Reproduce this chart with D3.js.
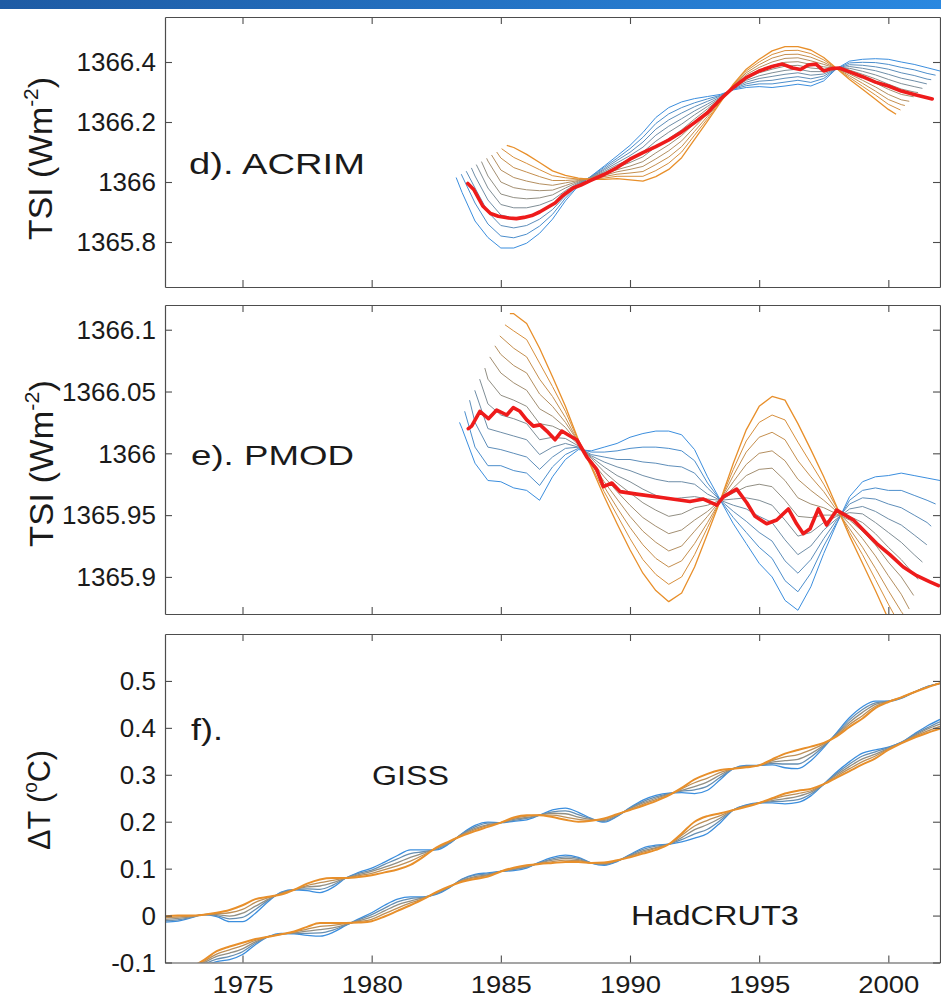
<!DOCTYPE html>
<html>
<head>
<meta charset="utf-8">
<title>TSI reconstructions and temperature</title>
<script src="https://cdn.jsdelivr.net/npm/d3@7"></script>
<style>
  html, body { margin: 0; padding: 0; background: #fff; }
  svg { display: block; }
  text { font-family: "Liberation Sans", Arial, Helvetica, sans-serif; fill: #1a1a1a; }
</style>
</head>
<body>
<svg id="chart" width="941" height="1003"></svg>
<script>
// ---------------- data ----------------
const yearTicks = [1975, 1980, 1985, 1990, 1995, 2000];
const yearTickLabels = ["1975", "1980", "1985", "1990", "1995", "2000"];

const acrimTicks = [1365.8, 1366, 1366.2, 1366.4];
const acrimTickLabels = ["1365.8", "1366", "1366.2", "1366.4"];
const pmodTicks = [1365.9, 1365.95, 1366, 1366.05, 1366.1];
const pmodTickLabels = ["1365.9", "1365.95", "1366", "1366.05", "1366.1"];
const tempTicks = [-0.1, 0, 0.1, 0.2, 0.3, 0.4, 0.5];
const tempTickLabels = ["-0.1", "0", "0.1", "0.2", "0.3", "0.4", "0.5"];

// common half-year grid of the TSI curves (W m-2)
const tsiYears = [1983.5,1984,1984.5,1985,1985.5,1986,1986.5,1987,1987.5,1988,1988.5,1989,1989.5,1990,1990.5,1991,1991.5,1992,1992.5,1993,1993.5,1994,1994.5,1995,1995.5,1996,1996.5,1997,1997.5,1998,1998.5,1999,1999.5,2000,2000.5,2001,2001.5,2002];

// ACRIM family, row 0 = blue ... row 10 = orange
const acrimFan = [
  [1365.965,1365.870,1365.815,1365.780,1365.780,1365.796,1365.829,1365.876,1365.937,1365.987,1366.020,1366.053,1366.087,1366.122,1366.165,1366.215,1366.248,1366.267,1366.278,1366.285,1366.292,1366.307,1366.315,1366.318,1366.315,1366.320,1366.326,1366.320,1366.337,1366.378,1366.403,1366.409,1366.411,1366.409,1366.400,1366.392,1366.381,null],
  [1366.020,1365.930,1365.860,1365.820,1365.814,1365.826,1365.853,1365.892,1365.946,1365.990,1366.019,1366.049,1366.079,1366.111,1366.149,1366.195,1366.227,1366.248,1366.264,1366.277,1366.289,1366.309,1366.321,1366.327,1366.327,1366.333,1366.339,1366.332,1366.345,1366.378,1366.397,1366.399,1366.398,1366.392,1366.382,1366.374,1366.362,null],
  [null,1365.980,1365.900,1365.855,1365.847,1365.855,1365.876,1365.908,1365.954,1365.992,1366.018,1366.044,1366.072,1366.099,1366.133,1366.176,1366.207,1366.230,1366.251,1366.269,1366.287,1366.311,1366.327,1366.336,1366.339,1366.346,1366.351,1366.344,1366.353,1366.378,1366.391,1366.389,1366.384,1366.376,1366.364,1366.355,1366.343,null],
  [null,1366.020,1365.940,1365.890,1365.880,1365.885,1365.900,1365.924,1365.963,1365.995,1366.017,1366.040,1366.064,1366.088,1366.116,1366.156,1366.186,1366.211,1366.237,1366.260,1366.284,1366.313,1366.333,1366.345,1366.352,1366.359,1366.364,1366.356,1366.360,1366.378,1366.385,1366.379,1366.371,1366.359,1366.346,1366.337,null,null],
  [null,null,1365.980,1365.925,1365.914,1365.914,1365.923,1365.940,1365.971,1365.997,1366.016,1366.035,1366.057,1366.076,1366.100,1366.136,1366.166,1366.193,1366.224,1366.252,1366.281,1366.315,1366.339,1366.354,1366.364,1366.372,1366.376,1366.368,1366.368,1366.378,1366.379,1366.369,1366.357,1366.342,1366.328,1366.318,null,null],
  [null,null,1366.020,1365.960,1365.948,1365.944,1365.947,1365.957,1365.980,1366.000,1366.015,1366.031,1366.049,1366.065,1366.084,1366.117,1366.145,1366.174,1366.210,1366.244,1366.279,1366.317,1366.346,1366.364,1366.376,1366.386,1366.389,1366.380,1366.376,1366.378,1366.373,1366.359,1366.344,1366.326,1366.310,1366.300,null,null],
  [null,null,1366.070,1366.000,1365.981,1365.974,1365.971,1365.973,1365.988,1366.003,1366.013,1366.027,1366.041,1366.053,1366.068,1366.097,1366.124,1366.155,1366.196,1366.236,1366.276,1366.318,1366.352,1366.373,1366.388,1366.399,1366.401,1366.392,1366.384,1366.378,1366.366,1366.349,1366.330,1366.309,1366.292,null,null,null],
  [null,null,null,1366.040,1366.015,1366.003,1365.994,1365.989,1365.997,1366.005,1366.012,1366.022,1366.034,1366.042,1366.052,1366.077,1366.104,1366.137,1366.183,1366.228,1366.273,1366.320,1366.358,1366.382,1366.400,1366.412,1366.414,1366.404,1366.392,1366.378,1366.360,1366.339,1366.317,1366.292,1366.274,null,null,null],
  [null,null,null,1366.080,1366.048,1366.033,1366.018,1366.005,1366.005,1366.008,1366.011,1366.018,1366.026,1366.030,1366.035,1366.058,1366.083,1366.118,1366.169,1366.219,1366.270,1366.322,1366.364,1366.391,1366.413,1366.425,1366.426,1366.416,1366.399,1366.378,1366.354,1366.329,1366.303,1366.275,1366.258,null,null,null],
  [null,null,null,null,1366.082,1366.062,1366.041,1366.021,1366.014,1366.010,1366.010,1366.013,1366.019,1366.019,1366.019,1366.038,1366.063,1366.100,1366.156,1366.211,1366.268,1366.324,1366.370,1366.400,1366.425,1366.438,1366.439,1366.428,1366.407,1366.378,1366.348,1366.319,1366.290,1366.259,null,null,null,null],
  [null,null,null,null,1366.115,1366.092,1366.065,1366.037,1366.022,1366.013,1366.009,1366.009,1366.011,1366.007,1366.003,1366.018,1366.042,1366.081,1366.142,1366.203,1366.265,1366.326,1366.376,1366.409,1366.437,1366.451,1366.451,1366.440,1366.415,1366.378,1366.342,1366.309,1366.276,1366.242,null,null,null,null]
];
const acrimStartYear  = [1983.27,1983.47,1983.66,1983.86,1984.05,1984.25,1984.45,1984.64,1984.84,1985.03,1985.23];
const acrimStartValue = [1366.015,1366.026,1366.036,1366.047,1366.058,1366.068,1366.079,1366.090,1366.100,1366.111,1366.122];
const acrimEndYear    = [2002.0,2001.83,2001.66,2001.49,2001.32,2001.15,2000.98,2000.81,2000.64,2000.47,2000.30];
const acrimEndValue   = [1366.370,1366.356,1366.341,1366.327,1366.312,1366.298,1366.284,1366.269,1366.255,1366.240,1366.226];

const acrimRedYears  = [1983.72,1983.95,1984.3,1984.6,1984.9,1985.3,1985.6,1985.9,1986.2,1986.5,1986.8,1987.1,1987.4,1987.8,1988.1,1988.5,1989.0,1989.5,1990.0,1990.5,1991.0,1991.5,1992.0,1992.5,1993.0,1993.5,1994.0,1994.5,1995.0,1995.5,1995.9,1996.3,1996.6,1996.9,1997.2,1997.5,1997.8,1998.1,1998.5,1999.0,1999.5,2000.0,2000.5,2001.0,2001.7];
const acrimRedValues = [1365.995,1365.975,1365.920,1365.895,1365.886,1365.880,1365.878,1365.882,1365.888,1365.900,1365.915,1365.930,1365.955,1365.980,1365.990,1366.006,1366.025,1366.048,1366.076,1366.098,1366.118,1366.140,1366.167,1366.198,1366.231,1366.276,1366.315,1366.348,1366.370,1366.385,1366.393,1366.380,1366.375,1366.390,1366.393,1366.370,1366.378,1366.380,1366.367,1366.351,1366.333,1366.320,1366.303,1366.292,1366.277];

// PMOD family, row 0 = blue ... row 10 = orange
const pmodFan = [
  [1366.020,1365.992,1365.978,1365.977,1365.972,1365.970,1365.962,1365.981,1365.995,1366.003,1366.002,1366.005,1366.008,1366.013,1366.016,1366.018,1366.018,1366.015,1366.003,1365.981,1365.962,1365.943,1365.927,1365.911,1365.900,1365.881,1365.873,1365.892,1365.919,1365.943,1365.965,1365.977,1365.981,1365.982,1365.984,1365.982,1365.980,null],
  [null,1366.005,1365.990,1365.990,1365.986,1365.984,1365.974,1365.989,1365.999,1366.004,1366.001,1366.001,1366.002,1366.004,1366.005,1366.005,1366.004,1366.002,1365.994,1365.976,1365.962,1365.948,1365.936,1365.924,1365.915,1365.897,1365.888,1365.903,1365.925,1365.944,1365.962,1365.970,1365.972,1365.970,1365.970,1365.966,1365.962,null],
  [null,1366.025,1366.005,1366.003,1366.000,1365.997,1365.987,1365.997,1366.004,1366.005,1365.999,1365.997,1365.995,1365.995,1365.993,1365.992,1365.990,1365.989,1365.984,1365.972,1365.962,1365.953,1365.945,1365.936,1365.929,1365.913,1365.903,1365.914,1365.931,1365.946,1365.959,1365.964,1365.963,1365.959,1365.956,1365.950,1365.944,null],
  [null,null,1366.020,1366.017,1366.014,1366.011,1365.999,1366.005,1366.008,1366.005,1365.998,1365.993,1365.989,1365.986,1365.982,1365.979,1365.977,1365.977,1365.975,1365.967,1365.962,1365.958,1365.955,1365.949,1365.944,1365.930,1365.918,1365.925,1365.938,1365.947,1365.955,1365.957,1365.953,1365.947,1365.942,1365.934,null,null],
  [null,null,1366.040,1366.031,1366.028,1366.024,1366.011,1366.013,1366.012,1366.006,1365.997,1365.989,1365.982,1365.977,1365.971,1365.966,1365.963,1365.964,1365.965,1365.963,1365.962,1365.963,1365.964,1365.962,1365.958,1365.946,1365.933,1365.936,1365.944,1365.949,1365.952,1365.951,1365.944,1365.936,1365.928,1365.918,null,null],
  [null,null,1366.060,1366.047,1366.043,1366.038,1366.024,1366.022,1366.017,1366.007,1365.996,1365.985,1365.976,1365.968,1365.960,1365.954,1365.949,1365.951,1365.956,1365.958,1365.962,1365.968,1365.973,1365.975,1365.973,1365.962,1365.949,1365.948,1365.950,1365.950,1365.949,1365.944,1365.935,1365.924,1365.914,1365.902,null,null],
  [null,null,null,1366.065,1366.057,1366.051,1366.036,1366.030,1366.021,1366.008,1365.994,1365.981,1365.969,1365.958,1365.948,1365.941,1365.935,1365.938,1365.946,1365.953,1365.962,1365.972,1365.982,1365.987,1365.988,1365.978,1365.964,1365.959,1365.956,1365.951,1365.946,1365.937,1365.926,1365.912,1365.900,null,null,null],
  [null,null,null,1366.080,1366.071,1366.065,1366.048,1366.038,1366.025,1366.009,1365.993,1365.977,1365.963,1365.949,1365.937,1365.928,1365.921,1365.925,1365.937,1365.949,1365.962,1365.977,1365.991,1366.000,1366.002,1365.994,1365.979,1365.970,1365.962,1365.953,1365.943,1365.931,1365.917,1365.901,1365.886,null,null,null],
  [null,null,null,null,1366.085,1366.078,1366.060,1366.046,1366.029,1366.009,1365.992,1365.973,1365.956,1365.940,1365.926,1365.915,1365.908,1365.913,1365.927,1365.944,1365.962,1365.982,1366.001,1366.013,1366.017,1366.011,1365.994,1365.981,1365.969,1365.954,1365.939,1365.924,1365.907,1365.889,1365.872,null,null,null],
  [null,null,null,null,1366.099,1366.092,1366.073,1366.054,1366.034,1366.010,1365.990,1365.969,1365.950,1365.931,1365.914,1365.902,1365.894,1365.900,1365.918,1365.940,1365.962,1365.987,1366.010,1366.025,1366.031,1366.027,1366.009,1365.992,1365.975,1365.956,1365.936,1365.918,1365.898,1365.878,null,null,null,null],
  [null,null,null,null,1366.113,1366.105,1366.085,1366.062,1366.038,1366.011,1365.989,1365.965,1365.943,1365.922,1365.903,1365.889,1365.880,1365.887,1365.908,1365.935,1365.962,1365.992,1366.019,1366.038,1366.046,1366.043,1366.024,1366.003,1365.981,1365.957,1365.933,1365.911,1365.889,1365.866,null,null,null,null]
];
const pmodStartYear  = [1983.40,1983.60,1983.79,1983.99,1984.18,1984.38,1984.57,1984.77,1984.96,1985.16,1985.35];
const pmodStartValue = [1366.025,1366.034,1366.043,1366.051,1366.060,1366.069,1366.078,1366.087,1366.095,1366.104,1366.113];
const pmodEndYear    = [2002.0,2001.83,2001.66,2001.49,2001.32,2001.15,2000.98,2000.81,2000.64,2000.47,2000.30];
const pmodEndValue   = [1365.978,1365.959,1365.941,1365.926,1365.912,1365.898,1365.885,1365.874,1365.868,1365.860,1365.852];

const pmodRedYears  = [1983.74,1983.87,1984.19,1984.52,1984.84,1985.23,1985.48,1985.74,1986.0,1986.26,1986.52,1986.78,1987.10,1987.36,1987.68,1987.94,1988.33,1988.71,1988.97,1989.30,1989.62,1990.26,1991.29,1992.32,1992.84,1993.36,1993.62,1994.13,1994.52,1994.84,1995.29,1995.68,1996.13,1996.45,1996.71,1996.97,1997.29,1997.61,1998.0,1998.33,1998.65,1999.03,1999.55,2000.06,2000.58,2001.1,2001.61,2001.94];
const pmodRedValues = [1366.020,1366.022,1366.034,1366.028,1366.035,1366.031,1366.037,1366.034,1366.027,1366.022,1366.023,1366.018,1366.011,1366.018,1366.014,1366.011,1365.997,1365.987,1365.973,1365.976,1365.969,1365.967,1365.964,1365.961,1365.963,1365.958,1365.965,1365.971,1365.960,1365.949,1365.943,1365.946,1365.955,1365.943,1365.935,1365.939,1365.955,1365.942,1365.954,1365.950,1365.946,1365.938,1365.927,1365.918,1365.908,1365.901,1365.896,1365.893];

// temperature anomalies (deg C) on a half-year grid
const tempYears = [1972,1972.5,1973,1973.5,1974,1974.5,1975,1975.5,1976,1976.5,1977,1977.5,1978,1978.5,1979,1979.5,1980,1980.5,1981,1981.5,1982,1982.5,1983,1983.5,1984,1984.5,1985,1985.5,1986,1986.5,1987,1987.5,1988,1988.5,1989,1989.5,1990,1990.5,1991,1991.5,1992,1992.5,1993,1993.5,1994,1994.5,1995,1995.5,1996,1996.5,1997,1997.5,1998,1998.5,1999,1999.5,2000,2000.5,2001,2001.5,2002];

// GISS family, row 0 = blue ... row 4 = orange
const gissFan = [
  [-0.014,-0.012,-0.005,0.002,-0.002,-0.013,-0.013,0.005,0.030,0.050,0.055,0.053,0.049,0.060,0.080,0.092,0.101,0.114,0.128,0.140,0.140,0.140,0.153,0.175,0.192,0.199,0.198,0.201,0.204,0.214,0.225,0.229,0.220,0.207,0.199,0.211,0.230,0.246,0.256,0.261,0.262,0.260,0.267,0.290,0.313,0.320,0.320,0.321,0.315,0.313,0.330,0.358,0.390,0.422,0.445,0.457,0.457,0.463,0.476,0.488,0.495],
  [-0.011,-0.009,-0.004,0.002,0.000,-0.007,-0.004,0.013,0.033,0.049,0.055,0.057,0.056,0.065,0.080,0.090,0.097,0.109,0.121,0.132,0.136,0.141,0.154,0.174,0.189,0.197,0.198,0.203,0.207,0.214,0.221,0.223,0.215,0.206,0.201,0.212,0.229,0.243,0.253,0.260,0.265,0.268,0.276,0.295,0.313,0.319,0.320,0.324,0.323,0.323,0.338,0.361,0.388,0.417,0.439,0.453,0.457,0.464,0.476,0.488,0.495],
  [-0.008,-0.006,-0.003,0.002,0.002,-0.001,0.005,0.020,0.035,0.048,0.055,0.061,0.063,0.070,0.080,0.087,0.094,0.103,0.113,0.124,0.133,0.143,0.156,0.173,0.186,0.194,0.198,0.205,0.209,0.214,0.218,0.217,0.210,0.205,0.203,0.214,0.228,0.240,0.250,0.259,0.267,0.275,0.285,0.300,0.313,0.318,0.320,0.327,0.330,0.333,0.345,0.363,0.386,0.412,0.433,0.450,0.456,0.464,0.476,0.487,0.495],
  [-0.005,-0.003,-0.001,0.002,0.004,0.006,0.013,0.028,0.038,0.046,0.055,0.064,0.070,0.075,0.080,0.085,0.090,0.098,0.106,0.116,0.129,0.144,0.157,0.171,0.183,0.192,0.198,0.207,0.212,0.214,0.214,0.210,0.205,0.203,0.205,0.215,0.226,0.237,0.247,0.257,0.270,0.283,0.293,0.305,0.313,0.317,0.320,0.330,0.338,0.343,0.353,0.366,0.384,0.407,0.426,0.446,0.456,0.465,0.476,0.487,0.495],
  [-0.002,0.000,0.000,0.002,0.006,0.012,0.022,0.035,0.040,0.045,0.055,0.068,0.077,0.080,0.080,0.082,0.086,0.092,0.098,0.108,0.125,0.145,0.158,0.170,0.180,0.189,0.198,0.209,0.214,0.214,0.210,0.204,0.200,0.202,0.207,0.216,0.225,0.234,0.244,0.256,0.272,0.290,0.302,0.310,0.313,0.316,0.320,0.333,0.345,0.353,0.360,0.368,0.382,0.402,0.420,0.442,0.455,0.465,0.476,0.486,0.495]
];

// HadCRUT3 family, row 0 = blue ... row 4 = orange
const hadcrutFan = [
  [-0.140,-0.128,-0.120,-0.107,-0.098,-0.094,-0.083,-0.062,-0.045,-0.038,-0.039,-0.042,-0.044,-0.036,-0.021,-0.007,0.006,0.022,0.035,0.040,0.040,0.045,0.059,0.078,0.088,0.091,0.094,0.096,0.101,0.114,0.124,0.129,0.124,0.112,0.107,0.115,0.130,0.144,0.150,0.152,0.157,0.165,0.175,0.198,0.225,0.236,0.240,0.240,0.238,0.241,0.255,0.280,0.306,0.328,0.346,0.353,0.359,0.369,0.387,0.404,0.418],
  [-0.136,-0.126,-0.118,-0.104,-0.093,-0.087,-0.077,-0.059,-0.045,-0.039,-0.038,-0.038,-0.037,-0.031,-0.020,-0.009,0.002,0.016,0.029,0.036,0.039,0.046,0.060,0.077,0.086,0.089,0.094,0.098,0.103,0.113,0.121,0.125,0.122,0.112,0.109,0.116,0.129,0.141,0.148,0.152,0.162,0.174,0.184,0.203,0.225,0.235,0.240,0.243,0.244,0.247,0.259,0.280,0.303,0.323,0.340,0.349,0.358,0.369,0.385,0.400,0.413],
  [-0.133,-0.123,-0.115,-0.101,-0.087,-0.080,-0.071,-0.056,-0.045,-0.039,-0.037,-0.033,-0.030,-0.026,-0.019,-0.011,-0.003,0.010,0.023,0.031,0.038,0.048,0.061,0.075,0.083,0.087,0.094,0.099,0.104,0.112,0.118,0.122,0.119,0.112,0.110,0.117,0.127,0.138,0.145,0.152,0.166,0.183,0.194,0.208,0.225,0.234,0.240,0.245,0.249,0.254,0.263,0.280,0.300,0.318,0.334,0.344,0.356,0.368,0.383,0.397,0.408],
  [-0.129,-0.121,-0.113,-0.098,-0.082,-0.073,-0.064,-0.053,-0.045,-0.040,-0.035,-0.029,-0.023,-0.021,-0.017,-0.013,-0.008,0.004,0.016,0.027,0.036,0.049,0.061,0.074,0.081,0.085,0.094,0.101,0.106,0.111,0.115,0.118,0.117,0.112,0.112,0.117,0.126,0.135,0.143,0.152,0.171,0.191,0.203,0.213,0.225,0.233,0.240,0.248,0.255,0.260,0.266,0.280,0.297,0.313,0.328,0.340,0.355,0.368,0.381,0.393,0.403],
  [-0.125,-0.118,-0.110,-0.095,-0.076,-0.066,-0.058,-0.050,-0.045,-0.040,-0.034,-0.024,-0.016,-0.016,-0.016,-0.015,-0.012,-0.002,0.010,0.022,0.035,0.050,0.062,0.072,0.078,0.083,0.094,0.102,0.107,0.110,0.112,0.114,0.114,0.112,0.113,0.118,0.124,0.132,0.140,0.152,0.175,0.200,0.212,0.218,0.225,0.232,0.240,0.250,0.260,0.266,0.270,0.280,0.294,0.308,0.322,0.335,0.353,0.367,0.379,0.389,0.398]
];

// ---------------- drawing ----------------
const W = 941, H = 1003;
const plotLeft = 165, plotRight = 940;
const colBlue = "#3b8ede", colOrange = "#e88f2a", colRed = "#ee1b1b", frameColor = "#4d4d4d";

const svg = d3.select("#chart");
const defs = svg.append("defs");

// header strip across the top
const grad = defs.append("linearGradient").attr("id", "strip")
  .attr("x1", 0).attr("x2", 1).attr("y1", 0).attr("y2", 0);
grad.append("stop").attr("offset", 0).attr("stop-color", "#1e5ba4");
grad.append("stop").attr("offset", 1).attr("stop-color", "#2a88e0");
svg.append("rect").attr("x", 0).attr("y", 0).attr("width", W).attr("height", 9).attr("fill", "url(#strip)");

const x = d3.scaleLinear().domain([1972, 2002]).range([plotLeft, plotRight]);
const familyColor = (k, n) => d3.interpolateRgb(colBlue, colOrange)(k / (n - 1));

function makePanel(id, top, bottom, domain, ticks, tickLabels, showYears) {
  const y = d3.scaleLinear().domain(domain).range([bottom, top]);
  defs.append("clipPath").attr("id", "clip-" + id).append("rect")
    .attr("x", plotLeft).attr("y", top)
    .attr("width", plotRight - plotLeft).attr("height", bottom - top);
  const plot = svg.append("g").attr("clip-path", `url(#clip-${id})`);
  return { id, y, plot, top, bottom, ticks, tickLabels, showYears };
}

function drawAxes(p) {
  const fmt = d => p.tickLabels[p.ticks.indexOf(d)];
  const style = g => {
    g.attr("font-size", 25);
    g.select(".domain").attr("stroke", frameColor).attr("stroke-width", 1.2);
    g.selectAll(".tick line").attr("stroke", frameColor).attr("stroke-width", 1.1);
  };
  svg.append("g").attr("transform", `translate(${plotLeft},0)`)
    .call(d3.axisLeft(p.y).tickValues(p.ticks).tickFormat(fmt).tickSizeInner(-7).tickSizeOuter(0))
    .call(style)
    .call(g => g.selectAll(".tick text").attr("x", 0).attr("dy", "0.35em")
      .attr("transform", "translate(-9,0) scale(1.04,1)").attr("fill", "#1a1a1a"));
  svg.append("g").attr("transform", `translate(${plotRight},0)`)
    .call(d3.axisRight(p.y).tickValues(p.ticks).tickFormat("").tickSizeInner(-7).tickSizeOuter(0))
    .call(style);
  svg.append("g").attr("transform", `translate(0,${p.top})`)
    .call(d3.axisTop(x).tickValues(yearTicks).tickFormat("").tickSizeInner(-7).tickSizeOuter(0))
    .call(style);
  const bottomFmt = p.showYears ? (d => yearTickLabels[yearTicks.indexOf(d)]) : "";
  svg.append("g").attr("transform", `translate(0,${p.bottom})`)
    .call(d3.axisBottom(x).tickValues(yearTicks).tickFormat(bottomFmt).tickSizeInner(-7).tickSizeOuter(0))
    .call(style)
    .call(g => g.selectAll(".tick text").attr("y", 0).attr("dy", 0).attr("font-size", 24.5)
      .attr("transform", "translate(0,30) scale(1.12,1)").attr("fill", "#1a1a1a"));
}

// one TSI family: each member runs from its own start point, across the grid, to its own end point
function fanMembers(rows, startYear, startValue, endYear, endValue) {
  return rows.map((row, k) => {
    const pts = [[startYear[k], startValue[k]]];
    tsiYears.forEach((yr, i) => {
      if (row[i] !== null && yr > startYear[k] && yr < endYear[k]) pts.push([yr, row[i]]);
    });
    pts.push([endYear[k], endValue[k]]);
    return pts;
  });
}

function drawFan(p, members, width, curve) {
  const line = d3.line().x(d => x(d[0])).y(d => p.y(d[1])).curve(curve || d3.curveLinear);
  p.plot.append("g").selectAll("path").data(members).join("path")
    .attr("d", line)
    .attr("fill", "none")
    .attr("stroke", (d, k) => familyColor(k, members.length))
    .attr("stroke-width", (d, k) => (k === members.length - 1 ? width.last : width.base))
    .attr("stroke-linejoin", "round");
}

function drawRed(p, years, values) {
  const line = d3.line().x(d => x(d[0])).y(d => p.y(d[1]));
  p.plot.append("path").datum(d3.zip(years, values))
    .attr("d", line).attr("fill", "none").attr("stroke", colRed)
    .attr("stroke-width", 3.6).attr("stroke-linejoin", "round").attr("stroke-linecap", "round");
}

// panel d: ACRIM
const pA = makePanel("acrim", 17, 287, [1365.65, 1366.55], acrimTicks, acrimTickLabels, false);
drawFan(pA, fanMembers(acrimFan, acrimStartYear, acrimStartValue, acrimEndYear, acrimEndValue), { base: 1.0, last: 1.3 });
drawRed(pA, acrimRedYears, acrimRedValues);
drawAxes(pA);

// panel e: PMOD
const pP = makePanel("pmod", 305, 614, [1365.87, 1366.12], pmodTicks, pmodTickLabels, false);
drawFan(pP, fanMembers(pmodFan, pmodStartYear, pmodStartValue, pmodEndYear, pmodEndValue), { base: 1.0, last: 1.3 });
drawRed(pP, pmodRedYears, pmodRedValues);
drawAxes(pP);

// panel f: temperature
const pT = makePanel("temp", 634, 962.5, [-0.1, 0.6], tempTicks, tempTickLabels, true);
const tempMembers = fan => fan.map(row => d3.zip(tempYears, row));
drawFan(pT, tempMembers(gissFan), { base: 1.3, last: 2.0 }, d3.curveMonotoneX);
drawFan(pT, tempMembers(hadcrutFan), { base: 1.3, last: 2.0 }, d3.curveMonotoneX);
drawAxes(pT);

// text placed at a given size and stretched to a given width
function placeText(parts, o) {
  const outer = svg.append("g")
    .attr("transform", `translate(${o.x},${o.y})` + (o.rotate ? ` rotate(${o.rotate})` : ""));
  const inner = outer.append("g");
  const t = inner.append("text").attr("font-size", o.size).attr("text-anchor", o.anchor || "start");
  parts.forEach(pt => {
    const s = t.append("tspan").text(pt.text);
    if (pt.sup) s.attr("font-size", o.size * 0.62).attr("dy", -o.size * 0.42);
    else if (pt.after) s.attr("dy", o.size * 0.42);
  });
  if (o.width) {
    const natural = t.node().getComputedTextLength();
    inner.attr("transform", `scale(${o.width / natural},1)`);
  }
}

placeText([{ text: "d). ACRIM" }], { x: 189, y: 174, size: 29, width: 176 });
placeText([{ text: "e). PMOD" }], { x: 191, y: 465, size: 28.5, width: 163 });
placeText([{ text: "f)." }], { x: 191, y: 740, size: 29, width: 32 });
placeText([{ text: "GISS" }], { x: 372, y: 785, size: 28, width: 77 });
placeText([{ text: "HadCRUT3" }], { x: 631, y: 925, size: 27, width: 168 });

const tsiTitle = [{ text: "TSI (Wm" }, { text: "-2", sup: true }, { text: ")", after: true }];
placeText(tsiTitle, { x: 52, y: 158.5, size: 34, rotate: -90, anchor: "middle", width: 163 });
placeText(tsiTitle, { x: 53, y: 463.5, size: 34, rotate: -90, anchor: "middle", width: 167 });
placeText([{ text: "\u0394T (" }, { text: "o", sup: true }, { text: "C)", after: true }],
  { x: 50, y: 800, size: 32, rotate: -90, anchor: "middle", width: 100 });
</script>
</body>
</html>
